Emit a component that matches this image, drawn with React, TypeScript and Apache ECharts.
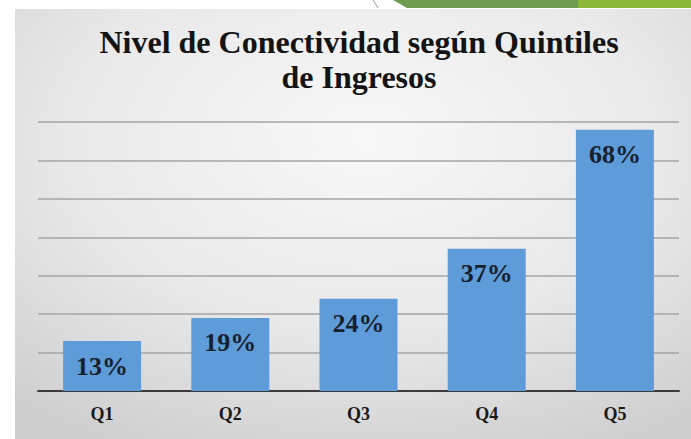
import React, { useEffect, useRef } from "react";
import * as echarts from "echarts";

const categories = ["Q1", "Q2", "Q3", "Q4", "Q5"];
const values = [13, 19, 24, 37, 68];
const titleLines = ["Nivel de Conectividad según Quintiles", "de Ingresos"];

export default function App() {
  const ref = useRef<HTMLDivElement>(null);
  useEffect(() => {
    if (!ref.current) return;
    const chart = echarts.init(ref.current, null, { renderer: "svg" });
    const serif = "Liberation Serif";
    chart.setOption({
      animation: false,
      backgroundColor: "#ffffff",
      graphic: [
        {
          type: "rect",
          z: -10,
          silent: true,
          shape: { x: 15, y: 9, width: 676, height: 430 },
          style: {
            fill: new echarts.graphic.RadialGradient(0.52, 0.3, 0.8, [
              { offset: 0, color: "#f8f8f8" },
              { offset: 0.55, color: "#e9e9e9" },
              { offset: 1, color: "#cfcfcf" },
            ]),
          },
        },
        {
          type: "polygon",
          silent: true,
          shape: { points: [[393, 0], [578, 0], [578, 8], [407, 8]] },
          style: { fill: "#6f9c50" },
        },
        {
          type: "rect",
          silent: true,
          shape: { x: 578, y: 0, width: 113, height: 8 },
          style: { fill: "#8cb83c" },
        },
        {
          type: "line",
          silent: true,
          shape: { x1: 373, y1: 0, x2: 378, y2: 8 },
          style: { stroke: "#9a9a9a", lineWidth: 1 },
        },
        {
          type: "text",
          silent: true,
          z: 10,
          style: {
            text: titleLines.join("\n"),
            x: 359,
            y: 24,
            align: "center",
            verticalAlign: "top",
            font: "bold 32px Liberation Serif",
            lineHeight: 35,
            fill: "#141414",
          },
        },
      ],
      grid: { left: 38, right: 12, top: 122, bottom: 48 },
      xAxis: {
        type: "category",
        data: categories,
        axisLine: { lineStyle: { color: "#3a3a3a", width: 2 } },
        axisTick: { show: false },
        axisLabel: {
          margin: 14,
          fontFamily: serif,
          fontWeight: "bold",
          fontSize: 18,
          color: "#1a1a1a",
        },
      },
      yAxis: {
        type: "value",
        min: 0,
        max: 70,
        interval: 10,
        axisLabel: { show: false },
        axisLine: { show: false },
        axisTick: { show: false },
        splitLine: { lineStyle: { color: "#a4a4a4", width: 1.5 } },
      },
      series: [
        {
          type: "bar",
          data: values,
          barWidth: 78,
          itemStyle: { color: "#5d9cd8" },
          label: {
            show: true,
            position: "insideTop",
            distance: 12,
            formatter: "{c}%",
            fontFamily: serif,
            fontWeight: "bold",
            fontSize: 26,
            color: "#18202e",
          },
        },
      ],
    });
    return () => chart.dispose();
  }, []);
  return (
    <div
      ref={ref}
      style={{ position: "absolute", left: 0, top: 0, width: 691, height: 439 }}
    />
  );
}
